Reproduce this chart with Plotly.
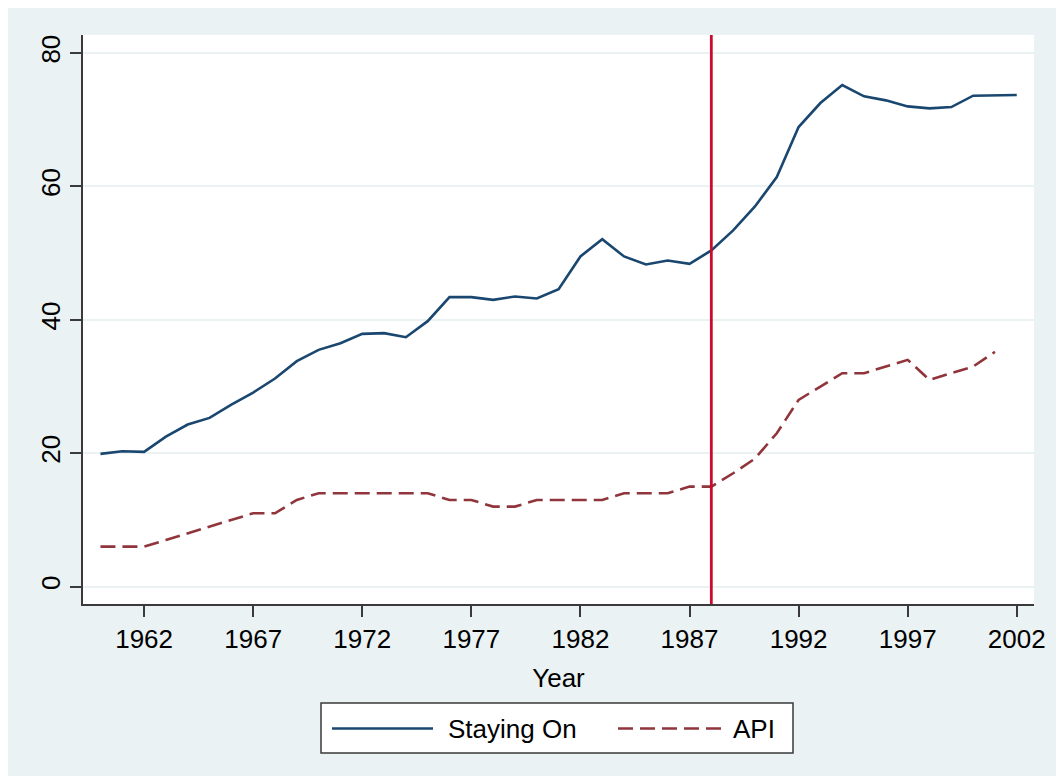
import plotly.graph_objects as go

# ---- data ----
years = list(range(1960, 2003))
staying_on = [19.9, 20.3, 20.2, 22.5, 24.3, 25.3, 27.3, 29.1, 31.2, 33.8,
              35.5, 36.5, 37.9, 38.0, 37.4, 39.8, 43.4, 43.4, 43.0, 43.5,
              43.2, 44.6, 49.5, 52.1, 49.5, 48.3, 48.9, 48.4, 50.4, 53.4,
              57.0, 61.4, 68.9, 72.5, 75.2, 73.5, 72.9, 72.0, 71.7, 71.9,
              73.6, 73.6, 73.7]
api_years = list(range(1960, 2002))
api = [6, 6, 6, 7, 8, 9, 10, 11, 11, 13,
       14, 14, 14, 14, 14, 14, 13, 13, 12, 12,
       13, 13, 13, 13, 14, 14, 14, 15, 15, 17,
       19.2, 23, 28, 30, 32, 32, 33, 34, 31, 32,
       33, 35.2]
reform_year = 1988
series_names = ["Staying On", "API"]
x_title = "Year"
y_ticks = [0, 20, 40, 60, 80]

# ---- style ----
OFF = 8                      # page body margin in the browser
W, H = 1053, 768             # figure size (page spans 8..1061, 8..776)
L, R, T, B = 75, 27, 27, 172
FONT = "Liberation Sans, Arial, sans-serif"
NAVY = "#1A476F"
MAROON = "#90353B"
RED = "#CC0A2E"
BG = "#EAF2F3"
AXIS = "#3a3a3a"
DASH = "15px,7px"

pw, ph = W - L - R, H - T - B


def px_x(p):
    """page pixel x -> paper coordinate"""
    return (p - OFF - L) / pw


def px_y(p):
    """page pixel y -> paper coordinate"""
    return (H - B - (p - OFF)) / ph


fig = go.Figure()
fig.add_trace(go.Scatter(x=years, y=staying_on, mode="lines", name=series_names[0],
                         line=dict(color=NAVY, width=2.6), showlegend=False))
fig.add_trace(go.Scatter(x=api_years, y=api, mode="lines", name=series_names[1],
                         line=dict(color=MAROON, width=2.6, dash=DASH), showlegend=False))

shapes = []
# reform vertical line
shapes.append(dict(type="line", xref="x", yref="paper", x0=reform_year, x1=reform_year,
                   y0=0, y1=1, line=dict(color=RED, width=2.8)))
# legend box
shapes.append(dict(type="rect", xref="paper", yref="paper",
                   x0=px_x(321), x1=px_x(793), y0=px_y(753), y1=px_y(703),
                   fillcolor="white", line=dict(color=AXIS, width=1.5)))
shapes.append(dict(type="line", xref="paper", yref="paper",
                   x0=px_x(332), x1=px_x(433), y0=px_y(728.5), y1=px_y(728.5),
                   line=dict(color=NAVY, width=2.6)))
shapes.append(dict(type="line", xref="paper", yref="paper",
                   x0=px_x(618), x1=px_x(721), y0=px_y(728.5), y1=px_y(728.5),
                   line=dict(color=MAROON, width=2.6, dash=DASH)))

annotations = [
    dict(text=series_names[0], xref="paper", yref="paper", x=px_x(446), y=px_y(728.5),
         xanchor="left", yanchor="middle", showarrow=False,
         font=dict(family=FONT, size=26, color="black")),
    dict(text=series_names[1], xref="paper", yref="paper", x=px_x(731), y=px_y(728.5),
         xanchor="left", yanchor="middle", showarrow=False,
         font=dict(family=FONT, size=26, color="black")),
]

fig.update_layout(
    width=W, height=H,
    margin=dict(l=L, r=R, t=T, b=B, pad=0),
    paper_bgcolor=BG, plot_bgcolor="white",
    font=dict(family=FONT, size=26, color="black"),
    shapes=shapes, annotations=annotations,
    showlegend=False,
)
fig.update_xaxes(
    range=[1959.2, 2002.79], tick0=1962, dtick=5, tickmode="linear",
    showgrid=False, zeroline=False,
    showline=True, linecolor=AXIS, linewidth=1.5,
    ticks="outside", ticklen=11, tickwidth=1.5, tickcolor=AXIS,
    tickfont=dict(family=FONT, size=26, color="black"),
    title=dict(text=x_title, font=dict(family=FONT, size=26, color="black"), standoff=16),
)
fig.update_yaxes(
    range=[-2.6, 82.7], tickmode="array", tickvals=y_ticks,
    showgrid=True, gridcolor=BG, gridwidth=2, zeroline=False,
    showline=True, linecolor=AXIS, linewidth=1.5,
    ticks="outside", ticklen=11, tickwidth=1.5, tickcolor=AXIS,
    tickangle=-90,
    tickfont=dict(family=FONT, size=26, color="black"),
)

fig.write_html("out.html")
